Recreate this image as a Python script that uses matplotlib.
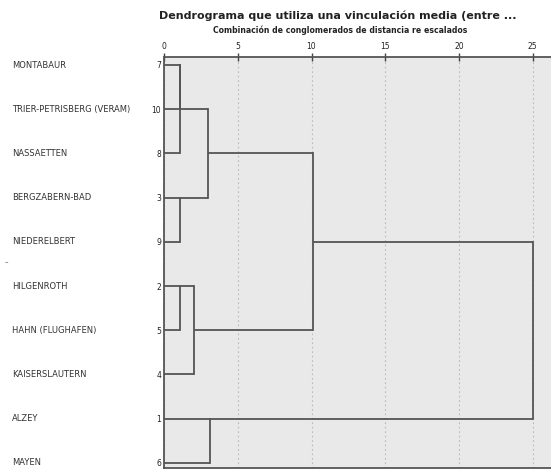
import matplotlib
matplotlib.use("Agg")
import matplotlib.pyplot as plt
import matplotlib.transforms as mtrans

# Leaves in display order (top to bottom)
leaf_names = ["MONTABAUR", "TRIER-PETRISBERG (VERAM)", "NASSAETTEN", "BERGZABERN-BAD",
              "NIEDERELBERT", "HILGENROTH", "HAHN (FLUGHAFEN)", "KAISERSLAUTERN",
              "ALZEY", "MAYEN"]
leaf_ids = [7, 10, 8, 3, 9, 2, 5, 4, 1, 6]

# Merges: (case/cluster A, case/cluster B, rescaled distance)
# clusters are referenced by leaf id or by "c<k>" for the k-th merge
merges = [
    (7, 10, 1.1),
    ("c0", 8, 1.1),
    (3, 9, 1.1),
    (2, 5, 1.1),
    ("c3", 4, 2.0),
    (1, 6, 3.1),
    ("c1", "c2", 3.0),
    ("c6", "c4", 10.1),
    ("c7", "c5", 25.0),
]

title = "Dendrograma que utiliza una vinculación media (entre ..."
subtitle = "Combinación de conglomerados de distancia re escalados"
xticks = [0, 5, 10, 15, 20, 25]

W, H = 551, 473
fig = plt.figure(figsize=(W / 100, H / 100), dpi=100)
ax = fig.add_axes([164 / W, 1 - 468 / H, 1 - 164 / W, (468 - 57) / H])
ax.set_facecolor("#e9e9e9")

line_col = "#555555"
pos = {lid: (i, 0.0) for i, lid in enumerate(leaf_ids)}
for k, (a, b, h) in enumerate(merges):
    ra, xa = pos[a]
    rb, xb = pos[b]
    ax.plot([xa, h], [ra, ra], color=line_col, lw=1.3, solid_capstyle="butt")
    ax.plot([xb, h], [rb, rb], color=line_col, lw=1.3, solid_capstyle="butt")
    ax.plot([h, h], [min(ra, rb), max(ra, rb)], color=line_col, lw=1.3,
            solid_capstyle="projecting")
    pos["c%d" % k] = (int((ra + rb) // 2), h)

ax.set_xlim(0, (W - 164) / 14.75)
ax.set_ylim((468 - 65) / 44.2, -8 / 44.2)

for t in xticks:
    ax.axvline(t, color="#bbbbbb", lw=0.8, ls=(0, (1.5, 2.5)), zorder=0)

ax.xaxis.tick_top()
ax.set_xticks(xticks)
ax.set_xticklabels([str(t) for t in xticks], fontsize=5.5, color="#222222")
ax.tick_params(axis="x", direction="inout", length=6, width=1, color="#444444", pad=1)

ax.set_yticks(range(len(leaf_ids)))
ax.set_yticklabels([str(i) for i in leaf_ids], fontsize=5.5, color="#222222")
ax.tick_params(axis="y", length=0, pad=2)

for s in ["left", "top", "bottom"]:
    ax.spines[s].set_color("#555555")
    ax.spines[s].set_linewidth(1.3)
ax.spines["right"].set_visible(False)

trans = mtrans.blended_transform_factory(fig.transFigure, ax.transData)
for i, name in enumerate(leaf_names):
    ax.text(12 / W, i, name, transform=trans, fontsize=6, color="#333333",
            va="center", ha="left", clip_on=False)
fig.text(5 / W, 1 - 262 / H, "–", fontsize=5, color="#333333", va="center")

fig.text(338 / W, 1 - 16 / H, title, fontsize=8, fontweight="semibold", ha="center",
         va="center", color="#222222")
fig.text(340 / W, 1 - 30 / H, subtitle, fontsize=5.6, fontweight="bold", ha="center",
         va="center", color="#222222")

fig.savefig("out.png", dpi=100)
